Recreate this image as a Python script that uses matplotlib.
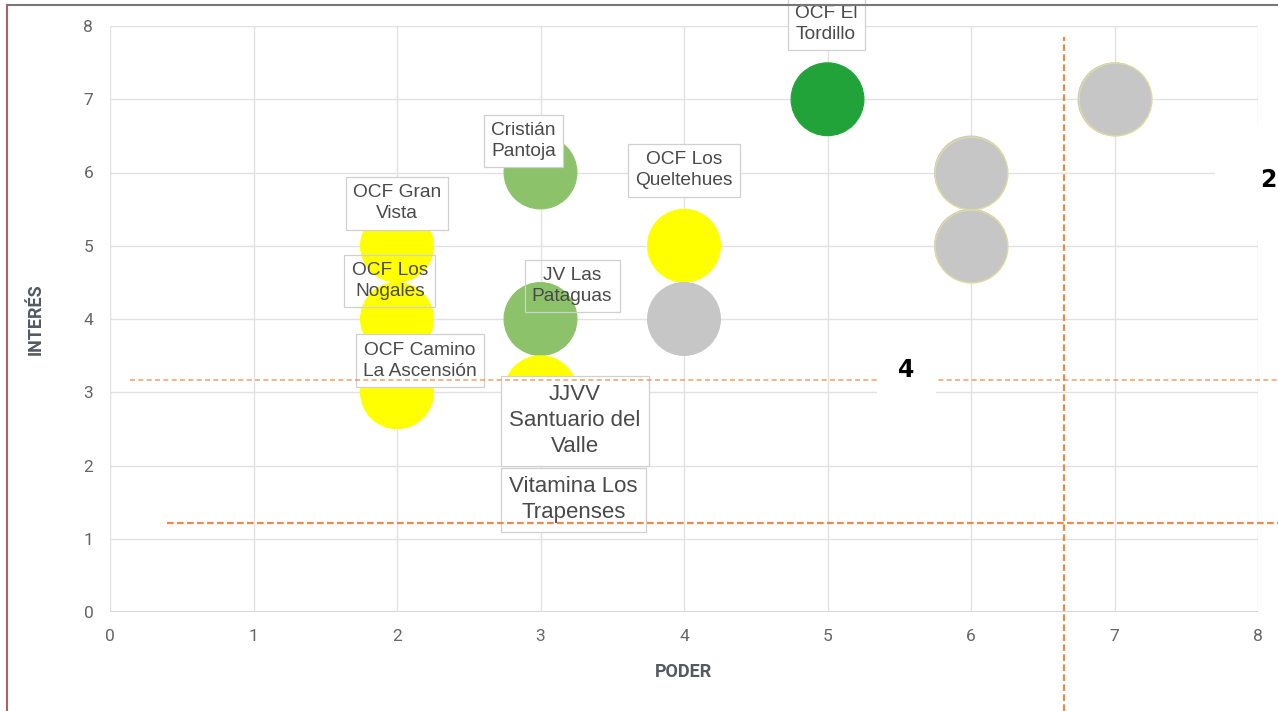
import matplotlib.pyplot as plt
from matplotlib.lines import Line2D
from matplotlib.patches import Rectangle

# bubbles
poder = [2, 2, 2, 3, 3, 3, 4, 4, 5, 6, 6, 7]
interes = [5, 4, 3, 6, 4, 3, 5, 4, 7, 6, 5, 7]
colores = ["#ffff00", "#ffff00", "#ffff00", "#8cc269", "#8cc269", "#ffff00",
           "#ffff00", "#c6c6c6", "#22a33a", "#c6c6c6", "#c6c6c6", "#c6c6c6"]

# label boxes
etiquetas = ["OCF Gran\nVista", "OCF Los\nNogales", "OCF Camino\nLa Ascensión",
             "Cristián\nPantoja", "JV Las\nPataguas", "JJVV\nSantuario del\nValle",
             "Vitamina Los\nTrapenses", "OCF Los\nQueltehues", "OCF El\nTordillo"]
etiq_x = [2.0, 1.95, 2.16, 2.88, 3.22, 3.24, 3.23, 4.0, 4.99]
etiq_y = [5.58, 4.52, 3.43, 6.43, 4.45, 2.61, 1.53, 6.03, 8.03]
etiq_grandes = ["JJVV\nSantuario del\nValle", "Vitamina Los\nTrapenses"]
etiq_transparentes = ["OCF Los\nNogales", "JV Las\nPataguas"]

# threshold lines
corte_x = 6.65
corte_y = [3.17, 1.215]

fig = plt.figure(figsize=(12.78, 7.11), dpi=100)
ax = fig.add_axes([110 / 1278, 99 / 711, 1148 / 1278, 586 / 711])

ax.scatter(poder, interes, s=2750, c=colores, edgecolors=colores, linewidths=0.8, zorder=2)
for i, c in enumerate(colores):
    if c == "#c6c6c6" and poder[i] != 4:
        ax.scatter(poder[i], interes[i], s=2750, c=c, edgecolors="#dcdca0", linewidths=1.0, zorder=2)

for txt, x, y in zip(etiquetas, etiq_x, etiq_y):
    grande = txt in etiq_grandes
    fc = "none" if txt in etiq_transparentes else "white"
    ax.text(x, y, txt, ha="center", va="center", fontsize=16 if grande else 13.8,
            color="#4a4a4a", family="Liberation Sans", linespacing=1.32, zorder=4,
            clip_on=False,
            bbox=dict(boxstyle="square,pad=0.38", fc=fc, ec="#d0d0d0", lw=0.9))

ax.set_xlim(0, 8)
ax.set_ylim(0, 8)
ax.set_xticks(range(9))
ax.set_yticks(range(9))
ax.grid(True, color="#e2e2e2", lw=1.0, zorder=0)
ax.set_axisbelow(True)
for s in ax.spines.values():
    s.set_visible(False)
ax.axhline(0, color="#d6d6d6", lw=1.5, zorder=1)
ax.tick_params(length=0, labelsize=12.5, labelcolor="#666666", pad=12)
for lab in ax.get_xticklabels() + ax.get_yticklabels():
    lab.set_family("Roboto")
ax.tick_params(axis="x", pad=12)
ax.set_xlabel("PODER", fontsize=13, fontweight="bold", color="#555a62", family="Roboto", labelpad=14)
ax.set_ylabel("INTERÉS", fontsize=13, fontweight="bold", color="#555a62", family="Roboto", labelpad=28)

# orange dashed guides
naranja = "#ee8a45"
ax.plot([corte_x, corte_x], [-1.35, 7.85], color=naranja, lw=1.6, ls=(0, (3, 1.5)), clip_on=False, zorder=5)
ax.plot([0.14, 8.2], [corte_y[0], corte_y[0]], color=naranja, lw=1.2, ls=(0, (3, 2)), alpha=0.75, clip_on=False, zorder=5)
ax.plot([0.40, 8.2], [corte_y[1], corte_y[1]], color=naranja, lw=1.6, ls=(0, (3, 1.5)), clip_on=False, zorder=5)

ax.text(5.55, 3.3, "4", ha="center", va="center", fontsize=17, fontweight="bold", color="black",
        zorder=6, bbox=dict(boxstyle="square,pad=0.9", fc="white", ec="none"))

# white patch with "2" on the right edge
fig.patches.append(Rectangle((1215 / 1278, 470 / 711), 63 / 1278, 115 / 711,
                             transform=fig.transFigure, fc="white", ec="none", zorder=5))
fig.text(1268 / 1278, 531 / 711, "2", ha="center", va="center", fontsize=17, fontweight="bold",
         color="black", zorder=6)

# frame lines from the screenshot
fig.add_artist(Line2D([7 / 1278, 1], [706 / 711, 706 / 711], color="#777777", lw=1.5))
fig.add_artist(Line2D([7 / 1278, 7 / 1278], [0, 706 / 711], color="#b06060", lw=1.5))

fig.savefig("out.png", dpi=100, facecolor="white")
